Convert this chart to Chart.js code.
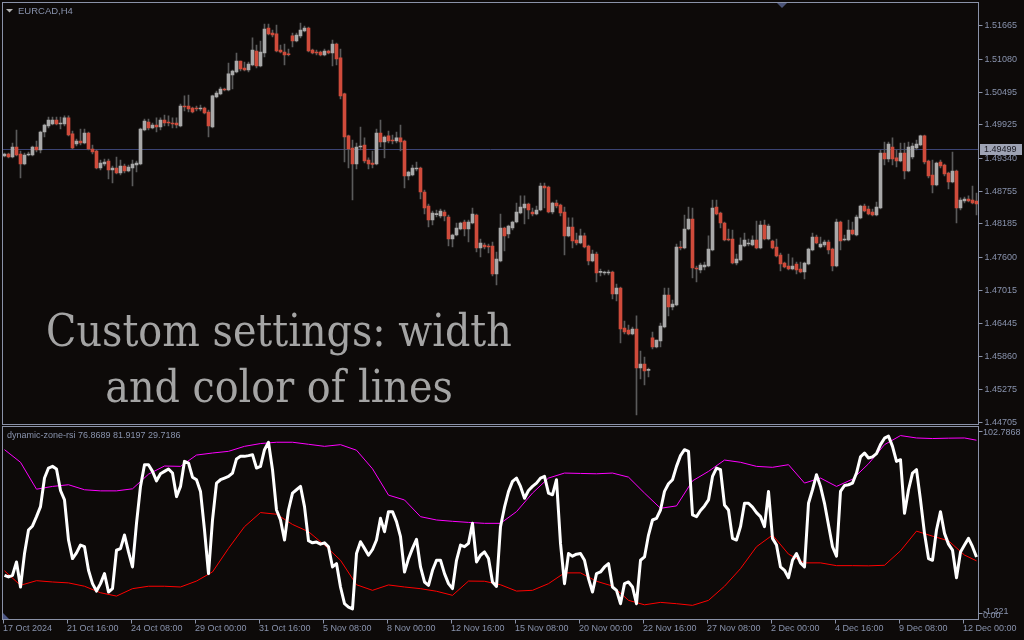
<!DOCTYPE html>
<html>
<head>
<meta charset="utf-8">
<script src="https://cdn.jsdelivr.net/npm/chart.js@4.4.1/dist/chart.umd.min.js"></script>
<style>
  html, body { margin: 0; padding: 0; background: #0d0a09; }
  #wrap { position: relative; width: 1024px; height: 640px; overflow: hidden; background: #0d0a09; }
  canvas { position: absolute; left: 0; }
  #price { top: 0; }
  #ind { top: 425px; }
  .lbl { position: absolute; font-family: 'Liberation Sans', Arial, sans-serif; font-size: 9px; color: #8993ad; white-space: nowrap; line-height: 11px; }
  .cap { position: absolute; left: 279px; font-family: 'DejaVu Serif', serif; font-size: 45px; line-height: 45px; color: #a4a4a4; white-space: nowrap; }
</style>
</head>
<body>
<div id="wrap">
  <canvas id="price" width="1024" height="430"></canvas>
  <canvas id="ind" width="1024" height="215"></canvas>
  <div class="lbl" style="left:18px; top:5px; font-size:9.5px;">EURCAD,H4</div>
  <div class="lbl" style="left:7px; top:430px;">dynamic-zone-rsi 76.8689 81.9197 29.7186</div>
  <div class="cap" id="cap1" style="top:308px;"></div>
  <div class="cap" id="cap2" style="top:364px;"></div>
</div>
<script>
// EURCAD H4 candles, 17 Oct 2024 00:00 .. 12 Dec 2024
const opens = [1.49379,1.49414,1.49361,1.49536,1.49414,1.49238,1.49396,1.49396,1.49536,1.49484,
1.49800,1.49905,1.49940,1.50010,1.49940,1.49940,1.50046,1.49765,1.49589,1.49641,
1.49606,1.49782,1.49501,1.49466,1.49168,1.49238,1.49290,1.49133,1.49168,1.49080,
1.49203,1.49115,1.49168,1.49220,1.49238,1.49835,1.49975,1.49870,1.49922,1.49887,
1.50010,1.49975,1.49957,1.49957,1.49905,1.50256,1.50256,1.50221,1.50221,1.50203,
1.50221,1.50151,1.49887,1.50414,1.50467,1.50554,1.50537,1.50800,1.50853,1.51045,
1.50923,1.50888,1.50975,1.51221,1.50958,1.51186,1.51625,1.51537,1.51520,1.51239,
1.51204,1.51169,1.51485,1.51396,1.51485,1.51572,1.51625,1.51239,1.51204,1.51204,
1.51151,1.51221,1.51186,1.51344,1.51099,1.50467,1.49730,1.49519,1.49238,1.49536,
1.49571,1.49308,1.49255,1.49238,1.49782,1.49624,1.49730,1.49659,1.49641,1.49695,
1.49641,1.49028,1.49045,1.49150,1.49168,1.48747,1.48501,1.48255,1.48350,1.48326,
1.48396,1.48308,1.47922,1.47992,1.48097,1.48220,1.48097,1.48202,1.48343,1.47764,
1.47816,1.47799,1.47799,1.47308,1.47535,1.48115,1.48010,1.48115,1.48220,1.48378,
1.48466,1.48536,1.48396,1.48361,1.48431,1.48852,1.48834,1.48396,1.48553,1.48518,
1.48396,1.47975,1.48132,1.47904,1.47851,1.47975,1.47799,1.47535,1.47659,1.47335,
1.47325,1.47325,1.47343,1.46957,1.47062,1.46360,1.46325,1.46255,1.46342,1.45658,
1.45728,1.45615,1.46185,1.46026,1.46131,1.46377,1.46939,1.46728,1.46763,1.47781,
1.47764,1.48097,1.48273,1.47413,1.47378,1.47430,1.47448,1.47729,1.48483,1.48378,
1.48202,1.47922,1.47922,1.47500,1.47553,1.47799,1.47834,1.47816,1.47904,1.47764,
1.48167,1.47922,1.47886,1.47781,1.47641,1.47500,1.47448,1.47395,1.47483,1.47395,
1.47343,1.47483,1.47729,1.47957,1.47781,1.47816,1.47869,1.47746,1.47448,1.48220,
1.47904,1.47904,1.48080,1.47992,1.48291,1.48501,1.48448,1.48396,1.48343,1.48466,
1.49431,1.49326,1.49536,1.49344,1.49290,1.49431,1.49115,1.49361,1.49519,1.49571,
1.49730,1.49290,1.49045,1.48869,1.49273,1.49220,1.49080,1.48922,1.49115,1.48466,
1.48588,1.48624,1.48606,1.48588];

const highs = [1.49431,1.49431,1.49606,1.49835,1.49466,1.49431,1.49449,1.49554,1.49641,1.49817,
1.49940,1.50063,1.50063,1.50063,1.50063,1.50081,1.50081,1.49817,1.49677,1.49852,
1.49852,1.49800,1.49571,1.49484,1.49308,1.49326,1.49326,1.49203,1.49361,1.49308,
1.49238,1.49220,1.49308,1.49290,1.49870,1.50028,1.50028,1.49957,1.50046,1.50046,
1.50098,1.50081,1.50046,1.50046,1.50291,1.50432,1.50449,1.50238,1.50256,1.50273,
1.50238,1.50186,1.50449,1.50519,1.50589,1.50572,1.51010,1.50888,1.51186,1.51045,
1.51028,1.51028,1.51450,1.51326,1.51396,1.51695,1.51695,1.51590,1.51677,1.51326,
1.51344,1.51256,1.51537,1.51537,1.51712,1.51660,1.51642,1.51256,1.51239,1.51221,
1.51256,1.51239,1.51414,1.51361,1.51256,1.50484,1.49747,1.49659,1.49606,1.49887,
1.49695,1.49344,1.49466,1.49852,1.50010,1.49730,1.49817,1.49747,1.49800,1.49922,
1.49659,1.49115,1.49220,1.49273,1.49185,1.48782,1.48536,1.48413,1.48431,1.48448,
1.48431,1.48343,1.48010,1.48202,1.48220,1.48255,1.48255,1.48466,1.48361,1.47922,
1.47851,1.47834,1.47869,1.47694,1.48361,1.48132,1.48167,1.48237,1.48553,1.48677,
1.48677,1.48553,1.48466,1.48501,1.48904,1.48904,1.48852,1.48571,1.48606,1.48536,
1.48483,1.48291,1.48291,1.48027,1.48097,1.48027,1.47816,1.47729,1.47694,1.47395,
1.47360,1.47378,1.47360,1.47132,1.47079,1.46482,1.46412,1.46377,1.46571,1.45956,
1.45851,1.45658,1.46290,1.46149,1.46447,1.47062,1.47062,1.46851,1.47834,1.47886,
1.48343,1.48483,1.48466,1.47448,1.47500,1.47518,1.47975,1.48606,1.48606,1.48396,
1.48220,1.48097,1.48080,1.47659,1.47940,1.48027,1.47922,1.47975,1.48237,1.48237,
1.48255,1.48185,1.47904,1.47922,1.47676,1.47518,1.47659,1.47589,1.47518,1.47518,
1.47518,1.47764,1.48027,1.47992,1.47957,1.47904,1.47904,1.47764,1.48273,1.48237,
1.47992,1.48255,1.48220,1.48343,1.48518,1.48536,1.48501,1.48448,1.48571,1.49484,
1.49624,1.49624,1.49695,1.49484,1.49606,1.49606,1.49624,1.49606,1.49659,1.49747,
1.49747,1.49308,1.49308,1.49273,1.49308,1.49238,1.49098,1.49449,1.49133,1.48642,
1.48659,1.48677,1.48852,1.48729];

const lows = [1.49361,1.49344,1.49344,1.49379,1.48993,1.49220,1.49379,1.49379,1.49449,1.49431,
1.49712,1.49870,1.49922,1.49922,1.49852,1.49905,1.49730,1.49501,1.49554,1.49571,
1.49589,1.49484,1.49414,1.49150,1.49133,1.49203,1.48975,1.48904,1.49063,1.49045,
1.49080,1.49098,1.48852,1.49098,1.49220,1.49817,1.49835,1.49852,1.49800,1.49835,
1.49905,1.49905,1.49870,1.49870,1.49887,1.50168,1.50151,1.50133,1.50168,1.50168,
1.50116,1.49712,1.49870,1.50397,1.50449,1.50519,1.50519,1.50554,1.50835,1.50870,
1.50870,1.50853,1.50958,1.50923,1.50940,1.51116,1.51502,1.51467,1.51204,1.51186,
1.50975,1.51134,1.51291,1.51379,1.51450,1.51555,1.51204,1.51169,1.51151,1.51134,
1.51134,1.51169,1.50958,1.50975,1.50379,1.49273,1.49168,1.48606,1.49150,1.49484,
1.49255,1.49150,1.49168,1.49220,1.49536,1.49344,1.49606,1.49589,1.49606,1.49466,
1.48817,1.48957,1.49028,1.49115,1.48624,1.48361,1.48132,1.48167,1.48308,1.48291,
1.48237,1.47799,1.47781,1.47975,1.48080,1.47975,1.47869,1.48185,1.47694,1.47606,
1.47746,1.47676,1.47273,1.47114,1.47518,1.47711,1.47940,1.48080,1.48202,1.48361,
1.48185,1.48273,1.48326,1.48343,1.48413,1.48466,1.48378,1.48361,1.48466,1.48326,
1.47641,1.47957,1.47764,1.47816,1.47834,1.47764,1.47465,1.47518,1.47167,1.47273,
1.47290,1.47290,1.46869,1.46833,1.46096,1.46255,1.46237,1.46237,1.44833,1.45465,
1.45359,1.45500,1.45991,1.46009,1.46026,1.46360,1.46571,1.46676,1.46746,1.47729,
1.47746,1.48080,1.47238,1.47167,1.47325,1.47378,1.47430,1.47711,1.48343,1.48115,
1.47886,1.47886,1.47483,1.47465,1.47535,1.47781,1.47799,1.47799,1.47746,1.47746,
1.47904,1.47904,1.47746,1.47606,1.47360,1.47413,1.47378,1.47378,1.47308,1.47325,
1.47220,1.47465,1.47711,1.47834,1.47764,1.47781,1.47659,1.47360,1.47430,1.47729,
1.47886,1.47886,1.47992,1.47975,1.48273,1.48396,1.48343,1.48326,1.48326,1.48448,
1.49220,1.49273,1.49220,1.49185,1.49273,1.48975,1.49098,1.49326,1.49484,1.49554,
1.49238,1.48993,1.48729,1.48852,1.49168,1.49028,1.48799,1.48904,1.48202,1.48431,
1.48553,1.48571,1.48536,1.48343];

const closes = [1.49414,1.49361,1.49536,1.49396,1.49238,1.49396,1.49414,1.49536,1.49484,1.49800,
1.49922,1.50010,1.50010,1.49940,1.49957,1.50046,1.49747,1.49519,1.49641,1.49606,
1.49782,1.49501,1.49449,1.49168,1.49255,1.49273,1.49133,1.49168,1.49080,1.49203,
1.49115,1.49185,1.49238,1.49255,1.49852,1.49992,1.49870,1.49922,1.49887,1.50010,
1.49957,1.49957,1.49940,1.49922,1.50256,1.50238,1.50203,1.50151,1.50203,1.50221,
1.50133,1.49905,1.50432,1.50484,1.50554,1.50537,1.50818,1.50870,1.51045,1.50905,
1.50888,1.50993,1.51239,1.50958,1.51204,1.51607,1.51520,1.51502,1.51221,1.51204,
1.51151,1.51155,1.51396,1.51502,1.51590,1.51625,1.51221,1.51186,1.51186,1.51151,
1.51221,1.51186,1.51344,1.51081,1.50432,1.49712,1.49501,1.49238,1.49536,1.49554,
1.49290,1.49238,1.49230,1.49782,1.49624,1.49712,1.49641,1.49641,1.49695,1.49624,
1.49028,1.49098,1.49168,1.49168,1.48747,1.48466,1.48255,1.48378,1.48361,1.48413,
1.48326,1.47922,1.47992,1.48115,1.48202,1.48097,1.48220,1.48361,1.47764,1.47851,
1.47781,1.47781,1.47308,1.47571,1.48115,1.47975,1.48150,1.48220,1.48396,1.48483,
1.48536,1.48431,1.48361,1.48431,1.48852,1.48817,1.48396,1.48553,1.48501,1.48378,
1.47975,1.48132,1.47886,1.47851,1.47975,1.47781,1.47535,1.47659,1.47325,1.47343,
1.47332,1.47343,1.46957,1.47062,1.46342,1.46290,1.46255,1.46342,1.45658,1.45728,
1.45605,1.45623,1.46026,1.46149,1.46395,1.46939,1.46728,1.46781,1.47781,1.47764,
1.48097,1.48273,1.47413,1.47395,1.47465,1.47465,1.47746,1.48466,1.48361,1.48202,
1.47904,1.47904,1.47500,1.47571,1.47816,1.47904,1.47851,1.47904,1.47764,1.48167,
1.47922,1.48150,1.47764,1.47624,1.47483,1.47430,1.47395,1.47448,1.47378,1.47343,
1.47500,1.47746,1.47957,1.47851,1.47834,1.47869,1.47729,1.47448,1.48220,1.47886,
1.47922,1.48080,1.48010,1.48308,1.48501,1.48413,1.48361,1.48343,1.48483,1.49431,
1.49326,1.49589,1.49326,1.49290,1.49431,1.49115,1.49536,1.49554,1.49589,1.49730,
1.49273,1.49028,1.48869,1.49255,1.49203,1.49063,1.48922,1.49115,1.48466,1.48606,
1.48624,1.48588,1.48553,1.48536];

const bidPrice = 1.49499;
const priceTicks = [1.51665, 1.51080, 1.50495, 1.49925, 1.49340, 1.48755, 1.48185,
  1.47600, 1.47015, 1.46445, 1.45860, 1.45275, 1.44705];

// dynamic zone RSI, one value per bar
const rsi = [22.6,21.7,22.6,29.8,16.3,34.3,47.0,49.2,54.2,59.6,
75.0,80.4,81.3,79.9,68.3,63.2,41.6,31.6,34.7,38.9,
38.0,25.3,18.1,14.1,18.1,23.5,13.6,15.4,36.1,37.0,
44.3,35.2,27.1,50.6,70.5,82.2,82.2,78.6,73.5,77.3,
78.6,79.9,77.7,65.0,70.5,84.0,83.1,75.5,74.1,67.8,
47.0,23.5,52.4,72.3,74.1,75.0,75.9,77.7,85.3,86.7,
86.7,87.1,87.6,80.4,81.3,90.3,94.3,79.5,57.8,52.4,
41.6,57.8,66.9,68.7,70.5,59.6,41.2,40.1,40.5,39.4,
40.1,38.0,27.1,28.9,16.3,7.3,5.5,4.5,34.3,40.7,
37.1,33.4,36.5,41.6,53.3,46.1,56.9,56.9,51.5,43.4,
24.4,31.6,37.1,42.0,27.1,19.0,17.2,25.3,30.7,30.7,
23.5,18.1,15.4,30.7,38.9,38.0,39.8,50.6,29.8,33.4,
35.2,31.6,19.0,16.6,48.8,59.3,67.7,73.2,75.0,70.5,
64.1,68.3,70.5,72.3,75.0,75.9,66.9,66.0,74.1,39.8,
18.1,34.3,32.9,34.0,34.3,30.7,20.8,13.6,23.5,24.4,
27.1,28.9,16.3,14.5,7.3,18.1,19.0,16.3,7.3,30.7,
32.5,44.3,52.4,53.3,57.8,67.8,71.9,74.1,81.3,87.1,
90.3,89.4,55.1,54.2,57.5,60.0,63.2,75.9,80.4,79.5,
60.5,57.8,42.5,41.6,48.8,61.4,61.4,59.3,56.4,54.2,
48.8,67.8,42.5,38.9,27.1,25.3,21.3,30.7,34.3,29.3,
27.1,61.4,68.7,76.8,70.5,61.4,49.7,38.0,32.9,67.8,
71.0,71.4,72.3,77.7,86.4,88.5,85.8,86.4,88.2,93.0,
96.5,97.6,92.1,84.0,84.9,56.0,68.7,77.7,79.5,63.2,
45.2,31.6,30.7,47.0,56.9,45.2,39.4,36.2,21.3,35.2,
38.9,42.5,38.0,32.5];

// bands read every 4th bar
const bandBars = [0,4,8,12,16,20,24,28,32,36,40,44,48,52,56,60,64,68,72,76,80,84,88,92,96,
  100,104,108,112,116,120,124,128,132,136,140,144,148,152,156,160,164,168,172,176,180,
  184,188,192,196,200,204,208,212,216,220,224,228,232,236,240,243];
const upperBand = [90.3,83.5,69.0,70.5,71.4,68.7,68.1,68.1,69.2,77.1,81.5,81.3,87.4,88.5,89.4,
  92.1,93.6,94.3,94.3,93.2,92.1,93.0,90.0,80.0,65.8,63.2,54.2,52.4,51.7,51.1,50.6,50.6,
  56.9,66.9,75.0,77.7,77.5,77.3,77.7,75.5,66.9,58.7,60.0,73.5,78.6,84.7,83.5,81.3,80.8,
  82.2,72.3,75.0,70.5,74.4,82.7,93.0,97.9,96.6,96.3,96.5,96.6,95.4];
const lowerBand = [25.0,17.2,19.7,19.0,18.5,16.7,13.2,11.4,15.4,16.7,16.7,16.3,19.5,24.4,37.1,
  48.8,56.4,55.5,50.0,46.1,38.9,30.7,17.5,14.5,17.4,16.3,15.4,14.0,11.8,19.5,19.4,17.5,
  14.1,14.5,18.1,23.9,23.9,19.4,16.8,9.1,6.7,8.0,7.3,6.4,9.1,16.7,26.2,38.0,44.3,
  34.0,29.3,29.3,27.8,27.8,27.7,28.0,35.8,46.4,43.7,41.2,33.5,30.4];

const timeLabels = ['17 Oct 2024', '21 Oct 16:00', '24 Oct 08:00', '29 Oct 00:00', '31 Oct 16:00',
  '5 Nov 08:00', '8 Nov 00:00', '12 Nov 16:00', '15 Nov 08:00', '20 Nov 00:00', '22 Nov 16:00',
  '27 Nov 08:00', '2 Dec 00:00', '4 Dec 16:00', '9 Dec 08:00', '12 Dec 00:00'];
const timeTickBars = [0,16,32,48,64,80,96,112,128,144,160,176,192,208,224,240];

const captionLines = ['Custom settings: width', 'and color of lines'];

const BULL = '#a9a9a9';
const BEAR = '#cf4b3b';
const WICK = '#5a5a5a';
const FRAME = '#8a92a8';
const TXT = '#8993ad';
const AXIS_FONT = { family: "'Liberation Sans', Arial, sans-serif", size: 9 };

// caption, squeezed to the width of the original slab serif
const mctx = document.createElement('canvas').getContext('2d');
mctx.font = '45px "DejaVu Serif"';
const sx = 466 / mctx.measureText(captionLines[0]).width;
['cap1', 'cap2'].forEach((id, k) => {
  const el = document.getElementById(id);
  el.textContent = captionLines[k];
  el.style.transform = 'translateX(-50%) scaleX(' + sx.toFixed(3) + ')';
});

// keep the plot box where the layout padding puts it
const noPad = s => { s.paddingTop = 0; s.paddingBottom = 0; s.paddingLeft = 0; s.paddingRight = 0; };

const pricePanel = {
  id: 'pricePanel',
  beforeDatasetsDraw(chart) {
    const { ctx, chartArea: a, scales: { y } } = chart;
    const py = Math.round(y.getPixelForValue(bidPrice)) + 0.5;
    ctx.save();
    ctx.strokeStyle = '#3b4474';
    ctx.lineWidth = 1;
    ctx.beginPath();
    ctx.moveTo(a.left, py);
    ctx.lineTo(a.right, py);
    ctx.stroke();
    ctx.restore();
  },
  afterDraw(chart) {
    const { ctx, chartArea: a, scales: { y } } = chart;
    ctx.save();
    ctx.strokeStyle = FRAME;
    ctx.lineWidth = 1;
    ctx.strokeRect(a.left, a.top, a.right - a.left, a.bottom - a.top);

    // shift marker at the top and the symbol menu arrow
    ctx.fillStyle = '#4b5478';
    ctx.beginPath();
    ctx.moveTo(777, 3); ctx.lineTo(787, 3); ctx.lineTo(782, 8);
    ctx.closePath(); ctx.fill();
    ctx.fillStyle = '#b4b4b4';
    ctx.beginPath();
    ctx.moveTo(6, 9); ctx.lineTo(13, 9); ctx.lineTo(9.5, 12.5);
    ctx.closePath(); ctx.fill();

    // bid price tag
    const py = Math.round(y.getPixelForValue(bidPrice));
    ctx.fillStyle = '#9ea3b4';
    ctx.fillRect(980, py - 5, 42, 11);
    ctx.fillStyle = '#1a1a22';
    ctx.font = "9px 'Liberation Sans', Arial, sans-serif";
    ctx.textBaseline = 'middle';
    ctx.fillText(bidPrice.toFixed(5), 984, py + 0.5);
    ctx.restore();
  }
};

new Chart(document.getElementById('price'), {
  type: 'bar',
  data: {
    labels: opens.map((o, i) => i),
    datasets: [
      {
        data: lows.map((l, i) => [l, highs[i]]),
        backgroundColor: WICK,
        barThickness: 1,
        grouped: false,
        order: 2
      },
      {
        data: opens.map((o, i) => [o, closes[i]]),
        backgroundColor: opens.map((o, i) => closes[i] >= o ? BULL : BEAR),
        barThickness: 3,
        minBarLength: 1,
        grouped: false,
        order: 1
      }
    ]
  },
  options: {
    responsive: false,
    animation: false,
    devicePixelRatio: 1,
    layout: { padding: { left: 2.5, top: 2.5, right: 0, bottom: 5.5 } },
    plugins: { legend: { display: false }, tooltip: { enabled: false } },
    scales: {
      x: { display: false, offset: true },
      y: {
        position: 'right',
        min: 1.44666,
        max: 1.52072,
        afterBuildTicks: s => { s.ticks = priceTicks.map(v => ({ value: v })); },
        afterFit: s => { s.width = 45.5; noPad(s); },
        ticks: { callback: v => Number(v).toFixed(5), font: AXIS_FONT, color: TXT, padding: 2, autoSkip: false },
        grid: { drawOnChartArea: false, tickLength: 4, tickColor: FRAME },
        border: { display: false }
      }
    }
  },
  plugins: [pricePanel]
});

const indPanel = {
  id: 'indPanel',
  afterDraw(chart) {
    const { ctx, chartArea: a } = chart;
    ctx.save();
    ctx.strokeStyle = FRAME;
    ctx.lineWidth = 1;
    ctx.strokeRect(a.left, a.top, a.right - a.left, a.bottom - a.top);
    ctx.beginPath();
    ctx.moveTo(a.right, 6.5); ctx.lineTo(a.right + 4, 6.5);
    ctx.moveTo(a.right, 188.5); ctx.lineTo(a.right + 4, 188.5);
    ctx.stroke();

    ctx.fillStyle = TXT;
    ctx.font = "9px 'Liberation Sans', Arial, sans-serif";
    ctx.textBaseline = 'middle';
    ctx.fillText('102.7868', 983, 8);
    ctx.fillText('-1.221', 983, 187);
    ctx.fillText('0.00', 983, 191);

    ctx.fillStyle = '#4c5685';
    ctx.beginPath();
    ctx.moveTo(3, a.bottom - 0.5); ctx.lineTo(3, a.bottom - 6.5); ctx.lineTo(9, a.bottom - 0.5);
    ctx.closePath(); ctx.fill();
    ctx.restore();
  }
};

new Chart(document.getElementById('ind'), {
  type: 'line',
  data: {
    datasets: [
      {
        data: rsi.map((v, i) => ({ x: i, y: v })),
        borderColor: '#ffffff',
        borderWidth: 3,
        borderJoinStyle: 'round',
        pointRadius: 0,
        order: 0
      },
      {
        data: bandBars.map((b, k) => ({ x: b, y: upperBand[k] })),
        borderColor: '#ff00ff',
        borderWidth: 1,
        pointRadius: 0,
        order: 1
      },
      {
        data: bandBars.map((b, k) => ({ x: b, y: lowerBand[k] })),
        borderColor: '#ff0000',
        borderWidth: 1,
        pointRadius: 0,
        order: 2
      }
    ]
  },
  options: {
    responsive: false,
    animation: false,
    devicePixelRatio: 1,
    layout: { padding: { left: 2.5, top: 1.5, right: 45.5, bottom: 0 } },
    plugins: { legend: { display: false }, tooltip: { enabled: false } },
    scales: {
      x: {
        type: 'linear',
        min: -0.5,
        max: 243.5,
        afterBuildTicks: s => { s.ticks = timeTickBars.map(b => ({ value: b - 0.375 })); },
        afterFit: s => { s.height = 20.5; noPad(s); },
        ticks: {
          callback: (v, k) => timeLabels[k],
          align: 'start',
          maxRotation: 0,
          autoSkip: false,
          font: AXIS_FONT,
          color: TXT,
          padding: 0
        },
        grid: { drawOnChartArea: false, tickLength: 4, tickColor: FRAME },
        border: { display: false }
      },
      y: { display: false, min: -1.221, max: 102.7868 }
    }
  },
  plugins: [indPanel]
});
</script>
</body>
</html>
